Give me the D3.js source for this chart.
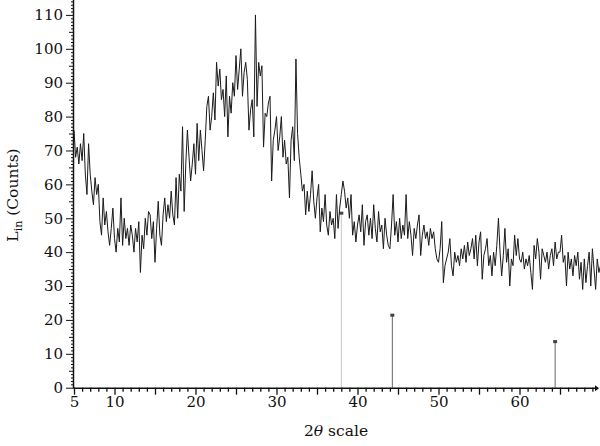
<!DOCTYPE html>
<html>
<head>
<meta charset="utf-8">
<script src="https://cdn.jsdelivr.net/npm/d3@7"></script>
<style>
  body { margin: 0; background: #fff; }
  svg text { font-family: "DejaVu Serif", "Liberation Serif", serif; fill: #111; }
</style>
</head>
<body>
<svg id="chart" width="600" height="446"></svg>
<script>
// measured pattern, 2theta from 5 to 70 in steps of 0.2
var startAngle = 5, stepAngle = 0.2;
var counts = [
  76, 68, 71, 66, 72,   67, 75, 63, 57, 72,   63, 58, 54, 62, 57,   60, 49, 45, 56, 48,
  52, 46, 42, 47, 53,   44, 40, 47, 43, 56,   42, 50, 44, 47, 42,   48, 45, 40, 47, 43,
  49, 34, 45, 41, 50,   45, 52, 51, 44, 49,   37, 47, 55, 45, 42,   51, 56, 49, 54, 50,
  58, 51, 48, 62, 50,   63, 58, 77, 52, 66,   76, 68, 61, 66, 72,   63, 78, 67, 76, 70,
  64, 73, 83, 86, 76,   80, 87, 79, 96, 89,   94, 85, 88, 80, 92,   74, 86, 81, 90, 86,
  98, 88, 94, 100, 86,  93, 96, 91, 76, 82,   85, 74, 110, 83, 96,  92, 95, 71, 81, 80,
  84, 86, 61, 73, 76,   80, 70, 74, 80, 68,   73, 66, 68, 56, 73,   77, 67, 97, 75, 68,
  63, 58, 60, 51, 58,   52, 57, 64, 55, 50,   56, 60, 46, 53, 49,   57, 48, 45, 52, 48,
  50, 44, 57, 47, 53,   57, 61, 58, 53, 56,   50, 57, 45, 49, 43,   48, 51, 46, 54, 42,
  49, 51, 45, 50, 44,   54, 47, 43, 52, 46,   48, 41, 50, 45, 42,   41, 48, 57, 45, 49,
  43, 50, 44, 48, 45,   57, 44, 49, 45, 39,   47, 44, 48, 51, 39,   45, 48, 44, 46, 42,
  47, 44, 46, 41, 38,   37, 41, 49, 31, 36,   38, 40, 44, 36, 33,   40, 37, 39, 36, 41,
  38, 42, 37, 43, 39,   41, 44, 38, 45, 36,   43, 46, 32, 39, 41,   44, 36, 39, 33, 40,
  36, 42, 50, 40, 33,   39, 47, 37, 41, 30,   38, 36, 45, 39, 44,   38, 37, 40, 35, 38,
  36, 39, 34, 29, 42,   38, 44, 40, 32, 41,   39, 37, 40, 35, 39,   41, 36, 43, 38, 40,
  40, 45, 37, 39, 30,   40, 35, 38, 33, 39,   36, 40, 32, 37, 29,   38, 31, 36, 40, 30,
  41, 35, 29, 38, 34,   36
];

// reference pattern sticks
var refAngles = [38.0, 44.3, 64.4];
var refHeights = [51.5, 21.4, 13.6];
var refColors = ['#c8c8c8', '#666', '#666'];

var xTickLabels = [5, 10, 20, 30, 40, 50, 60];
var yTickLabels = [0, 10, 20, 30, 40, 50, 60, 70, 80, 90, 100, 110];

var svg = d3.select('#chart');
var x = d3.scaleLinear().domain([5, 70]).range([74, 600.5]);
var y = d3.scaleLinear().domain([0, 114.4]).range([387.7, 0]);

var data = counts.map(function(c, i) {
  return { angle: startAngle + i * stepAngle, count: c };
});

// reference sticks (drawn below the pattern)
refAngles.forEach(function(a, i) {
  svg.append('line')
    .attr('x1', x(a)).attr('x2', x(a))
    .attr('y1', y(0)).attr('y2', y(refHeights[i]))
    .attr('stroke', refColors[i])
    .attr('stroke-width', 1);
  svg.append('rect')
    .attr('x', x(a) - 2).attr('y', y(refHeights[i]) - 1.5)
    .attr('width', 4).attr('height', 3)
    .attr('fill', '#444');
});

var line = d3.line()
  .x(function(d) { return x(d.angle); })
  .y(function(d) { return y(d.count); });

svg.append('path')
  .datum(data)
  .attr('d', line)
  .attr('fill', 'none')
  .attr('stroke', '#1a1a1a')
  .attr('stroke-width', 1);

// x axis
var xAxis = d3.axisBottom(x)
  .tickValues(d3.range(5, 70, 1))
  .tickSize(4)
  .tickFormat(function(d) { return xTickLabels.indexOf(d) >= 0 ? d : ''; });

var gx = svg.append('g')
  .attr('transform', 'translate(0,' + y(0) + ')')
  .call(xAxis);
gx.select('.domain').attr('d', 'M74,0.5H598').attr('stroke', '#111').attr('stroke-width', 1.5);
gx.selectAll('.tick line')
  .attr('stroke', '#111').attr('stroke-width', 1.3)
  .attr('y2', function(d) { return d % 5 === 0 ? 7 : 4; });
gx.selectAll('.tick text')
  .attr('y', 9)
  .style('font-size', '15px');
gx.append('path').attr('d', 'M595,-2.5L599,0.5L595,3.5Z').attr('fill', '#111');

// y axis
var yAxis = d3.axisLeft(y)
  .tickValues(d3.range(0, 115, 1))
  .tickSize(3)
  .tickFormat(function(d) { return yTickLabels.indexOf(d) >= 0 ? d : ''; });

var gy = svg.append('g')
  .attr('transform', 'translate(74,0)')
  .call(yAxis);
gy.select('.domain').attr('d', 'M-0.5,0V' + (y(0) + 0.5)).attr('stroke', '#111').attr('stroke-width', 1.5);
gy.selectAll('.tick line')
  .attr('stroke', '#111').attr('stroke-width', 1)
  .attr('x2', function(d) { return d % 10 === 0 ? -8 : (d % 5 === 0 ? -5 : -3); });
gy.selectAll('.tick text')
  .attr('x', -11)
  .style('font-size', '15px');

// axis titles
var yt = svg.append('text')
  .attr('transform', 'translate(18,195) rotate(-90)')
  .attr('text-anchor', 'middle')
  .style('font-size', '15.5px');
yt.append('tspan').text('L');
yt.append('tspan').attr('dy', 4).style('font-size', '11px').text('in');
yt.append('tspan').attr('dy', -4).text(' (Counts)');

var xt = svg.append('text')
  .attr('x', 336).attr('y', 436)
  .attr('text-anchor', 'middle')
  .style('font-size', '15.5px');
xt.append('tspan').text('2');
xt.append('tspan').style('font-style', 'italic').text('θ');
xt.append('tspan').text(' scale');
</script>
</body>
</html>
